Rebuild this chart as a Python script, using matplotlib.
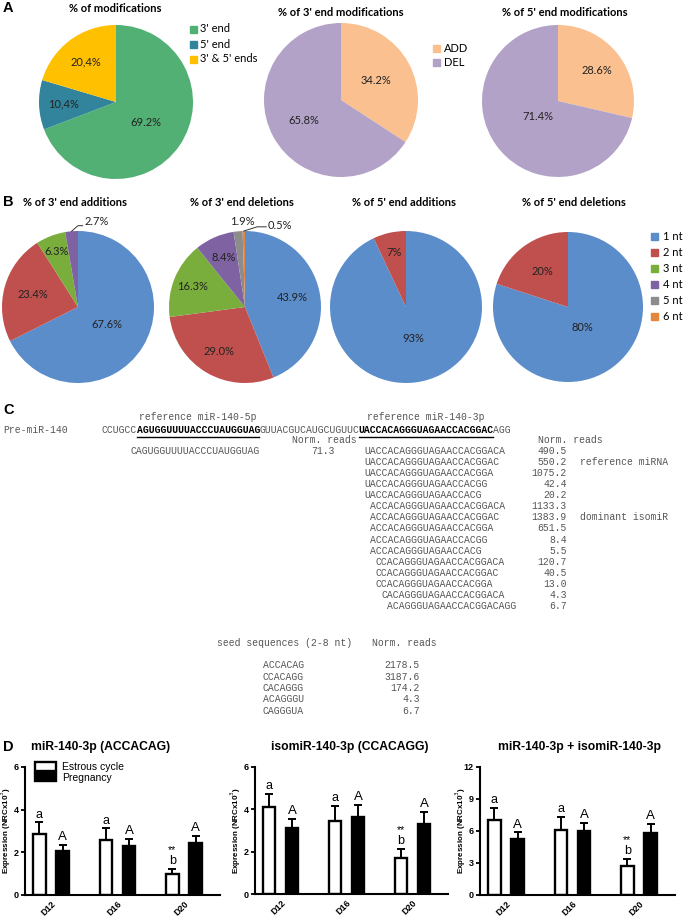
import matplotlib
matplotlib.use('Agg')
import matplotlib.pyplot as plt
import numpy as np

# ---------------- data ----------------
modif_labels = ["3' end", "5' end", "3' & 5' ends"]
modif_values = [69.2, 10.4, 20.4]
modif_text = ["69.2%", "10,4%", "20,4%"]

adddel_labels = ["ADD", "DEL"]
end3_values = [34.2, 65.8]
end3_text = ["34.2%", "65.8%"]
end5_values = [28.6, 71.4]
end5_text = ["28.6%", "71.4%"]

nt_labels = ["1 nt", "2 nt", "3 nt", "4 nt", "5 nt", "6 nt"]
add3_values = [67.6, 23.4, 6.3, 2.7]
add3_text = ["67.6%", "23.4%", "6.3%", "2.7%"]
del3_values = [43.9, 29.0, 16.3, 8.4, 1.9, 0.5]
del3_text = ["43.9%", "29.0%", "16.3%", "8.4%", "1.9%", "0.5%"]
add5_values = [93, 7]
add5_text = ["93%", "7%"]
del5_values = [80, 20]
del5_text = ["80%", "20%"]

pre_mir_segments = ["CCUGCC", "AGUGGUUUUACCCUAUGGUAG", "GUUACGUCAUGCUGUUC",
                    "UACCACAGGGUAGAACCACGGAC", "AGG"]
mir5p_seq = "CAGUGGUUUUACCCUAUGGUAG"
mir5p_reads = "71.3"
ref3p_extended = "UACCACAGGGUAGAACCACGGACAGG"
mir3p_seqs = ["UACCACAGGGUAGAACCACGGACA", "UACCACAGGGUAGAACCACGGAC",
              "UACCACAGGGUAGAACCACGGA", "UACCACAGGGUAGAACCACGG",
              "UACCACAGGGUAGAACCACG", "ACCACAGGGUAGAACCACGGACA",
              "ACCACAGGGUAGAACCACGGAC", "ACCACAGGGUAGAACCACGGA",
              "ACCACAGGGUAGAACCACGG", "ACCACAGGGUAGAACCACG",
              "CCACAGGGUAGAACCACGGACA", "CCACAGGGUAGAACCACGGAC",
              "CCACAGGGUAGAACCACGGA", "CACAGGGUAGAACCACGGACA",
              "ACAGGGUAGAACCACGGACAGG"]
mir3p_reads = ["490.5", "550.2", "1075.2", "42.4", "20.2", "1133.3", "1383.9",
               "651.5", "8.4", "5.5", "120.7", "40.5", "13.0", "4.3", "6.7"]
mir3p_notes = {1: "reference miRNA", 6: "dominant isomiR"}
seed_seqs = ["ACCACAG", "CCACAGG", "CACAGGG", "ACAGGGU", "CAGGGUA"]
seed_reads = ["2178.5", "3187.6", "174.2", "4.3", "6.7"]

days = ["D12", "D16", "D20"]
bar_titles = ["miR-140-3p (ACCACAG)", "isomiR-140-3p (CCACAGG)",
              "miR-140-3p + isomiR-140-3p"]
estrous_mean = [[2.85, 2.57, 0.98], [4.09, 3.46, 1.68], [6.99, 6.05, 2.76]]
estrous_sem = [[0.55, 0.55, 0.22], [0.65, 0.72, 0.46], [1.16, 1.30, 0.62]]
preg_mean = [[2.06, 2.30, 2.42], [3.10, 3.64, 3.32], [5.23, 5.96, 5.80]]
preg_sem = [[0.28, 0.32, 0.33], [0.44, 0.55, 0.54], [0.63, 0.78, 0.85]]
estrous_letters = ["a", "a", "b"]
preg_letters = ["A", "A", "A"]
ymaxes = [6, 6, 12]
yticks_list = [[0, 2, 4, 6], [0, 2, 4, 6], [0, 3, 6, 9, 12]]

# ---------------- figure ----------------
W, H = 685, 918
fig = plt.figure(figsize=(W / 100, H / 100), dpi=100)


def px_axes(l, t, w, h):
    return fig.add_axes([l / W, 1 - (t + h) / H, w / W, h / H])


ov = fig.add_axes([0, 0, 1, 1])
ov.set_xlim(0, W)
ov.set_ylim(H, 0)
ov.axis('off')
ov.set_zorder(10)
ov.patch.set_visible(False)

PIE_FONT = 'Lato'
SANS = 'Liberation Sans'
MONO = 'Liberation Mono'

# panel letters
for letter, (x, y) in zip("ABCD", [(3, 8), (3, 202), (3, 410), (3, 747)]):
    ov.text(x, y, letter, fontsize=10.5, fontweight='bold', family=SANS,
            ha='left', va='center')

c_green, c_teal, c_yellow = '#52B074', '#31849B', '#FFC000'
c_peach, c_lav = '#FAC08F', '#B3A2C7'
nt_colors = ['#5B8DCA', '#C0504D', '#7AAE3C', '#7F62A1', '#8C8C8C', '#E3873F']


def draw_pie(cx, cy, r, values, colors, labels, dists, fs=8):
    ax = px_axes(cx - r, cy - r, 2 * r, 2 * r)
    wedges, _ = ax.pie(values, colors=colors, startangle=90, counterclock=False,
                       radius=1, wedgeprops=dict(linewidth=0))
    ax.set_xlim(-1, 1)
    ax.set_ylim(-1, 1)
    ax.set_aspect('equal')
    ax.axis('off')
    for w, lab, d in zip(wedges, labels, dists):
        if d is None:
            continue
        ang = np.deg2rad((w.theta1 + w.theta2) / 2)
        ax.text(d * np.cos(ang), d * np.sin(ang), lab, ha='center', va='center',
                fontsize=fs, family=PIE_FONT, color='#222222')
    return ax, wedges


# ---- Panel A ----
draw_pie(116, 102, 77, modif_values, [c_green, c_teal, c_yellow], modif_text,
         [0.47, 0.68, 0.65])
draw_pie(341, 100, 77, end3_values, [c_peach, c_lav], end3_text, [0.52, 0.55])
draw_pie(558, 101, 76, end5_values, [c_peach, c_lav], end5_text, [0.65, 0.33])

ov.text(115, 8, "% of modifications", fontsize=8, fontweight='bold', family=PIE_FONT,
        ha='center', va='center')
ov.text(341, 12, "% of 3' end modifications", fontsize=8, fontweight='bold',
        family=PIE_FONT, ha='center', va='center')
ov.text(565, 12, "% of 5' end modifications", fontsize=8, fontweight='bold',
        family=PIE_FONT, ha='center', va='center')

for i, (lab, col) in enumerate(zip(modif_labels, [c_green, c_teal, c_yellow])):
    y = 29 + i * 15
    ov.add_patch(plt.Rectangle((190, y - 3.5), 7, 7, color=col))
    ov.text(200, y, lab, fontsize=8, family=PIE_FONT, va='center', ha='left')
for i, (lab, col) in enumerate(zip(adddel_labels, [c_peach, c_lav])):
    y = 48 + i * 14
    ov.add_patch(plt.Rectangle((433, y - 3.5), 7, 7, color=col))
    ov.text(444, y, lab, fontsize=8, family=PIE_FONT, va='center', ha='left')

# ---- Panel B ----
ax1, w1 = draw_pie(78, 307, 76, add3_values, nt_colors[:4], add3_text,
                   [0.45, 0.62, 0.78, None])
ang = np.deg2rad((w1[3].theta1 + w1[3].theta2) / 2)
ax1.plot([np.cos(ang), 0.0, 0.06], [np.sin(ang), 1.07, 1.07], color='#333333', lw=0.7,
         clip_on=False)
ax1.text(0.08, 1.12, add3_text[3], fontsize=8, family=PIE_FONT, ha='left',
         va='center', color='#222222')

ax2, w2 = draw_pie(245, 307, 76, del3_values, nt_colors, del3_text,
                   [0.63, 0.68, 0.74, 0.71, None, None])
ax2.text(-0.04, 1.13, del3_text[4], fontsize=8, family=PIE_FONT, ha='center',
         va='center', color='#222222')
ang = np.deg2rad((w2[5].theta1 + w2[5].theta2) / 2)
ax2.plot([np.cos(ang), 0.16, 0.28], [np.sin(ang), 1.055, 1.055], color='#333333', lw=0.7,
         clip_on=False)
ax2.text(0.30, 1.07, del3_text[5], fontsize=8, family=PIE_FONT, ha='left',
         va='center', color='#222222')

draw_pie(406, 307, 76, add5_values, nt_colors[:2], add5_text, [0.42, 0.74])
draw_pie(568, 307, 75, del5_values, nt_colors[:2], del5_text, [0.33, 0.59])

for x, t in zip([75, 242, 404, 574], ["% of 3' end additions", "% of 3' end deletions",
                                     "% of 5' end additions", "% of 5' end deletions"]):
    ov.text(x, 202, t, fontsize=8, fontweight='bold', family=PIE_FONT, ha='center',
            va='center')

for i, (lab, col) in enumerate(zip(nt_labels, nt_colors)):
    y = 236 + i * 16
    ov.add_patch(plt.Rectangle((651, y - 3.5), 7, 7, color=col))
    ov.text(663, y, lab, fontsize=8, family=PIE_FONT, va='center', ha='left')

# ---- Panel C ----
FS_M = 7.0
cw = FS_M * 100 / 72 * 0.6
gray = '#555555'


def mono(x, y, s, bold=False, ha='left', color=None):
    ov.text(x, y, s, fontsize=FS_M, family=MONO, fontweight='bold' if bold else 'normal',
            color=color or ('black' if bold else gray), ha=ha, va='center')


mono(3, 430, "Pre-miR-140")
xpos = 102
for i, s in enumerate(pre_mir_segments):
    bold = i in (1, 3)
    mono(xpos, 430, s, bold=bold)
    if bold:
        ov.plot([xpos, xpos + len(s) * cw], [437, 437], color='black', lw=1.0)
        label = "reference miR-140-5p" if i == 1 else "reference miR-140-3p"
        mono(xpos + len(s) * cw / 2, 417, label, ha='center')
    xpos += len(s) * cw
mono(292, 440, "Norm. reads")
mono(538, 440, "Norm. reads")
mono(131, 451, mir5p_seq)
mono(335, 451, mir5p_reads, ha='right')
for i, (s, r) in enumerate(zip(mir3p_seqs, mir3p_reads)):
    y = 451 + i * 11.07
    off = ref3p_extended.find(s[:6])
    mono(364 + off * cw, y, s)
    mono(567, y, r, ha='right')
    if i in mir3p_notes:
        mono(580, y, mir3p_notes[i])
mono(217, 643, "seed sequences (2-8 nt)")
mono(372, 643, "Norm. reads")
for i, (s, r) in enumerate(zip(seed_seqs, seed_reads)):
    y = 665 + i * 11.5
    mono(263, y, s)
    mono(420, y, r, ha='right')

# ---- Panel D ----
boxes = [(25, 767, 195, 128), (255, 767, 193, 127), (480, 767, 195, 128)]
title_x = [101, 350, 580]
x = np.arange(len(days))
bw, off = 0.19, 0.175
for k in range(3):
    ax = px_axes(*boxes[k])
    em, es = estrous_mean[k], estrous_sem[k]
    pm, ps = preg_mean[k], preg_sem[k]
    ek = dict(elinewidth=1.4, capsize=3.2, capthick=1.4, ecolor='black')
    ax.bar(x - off, em, bw, color='white', edgecolor='black', linewidth=1.7, zorder=2,
           label='Estrous cycle')
    ax.errorbar(x - off, em, yerr=[np.zeros(3), es], fmt='none', zorder=1, **ek)
    ax.bar(x + off, pm, bw, color='black', edgecolor='black', linewidth=1.7, zorder=2,
           label='Pregnancy')
    ax.errorbar(x + off, pm, yerr=[np.zeros(3), ps], fmt='none', zorder=1, **ek)
    ymax = ymaxes[k]
    pad = 0.015 * ymax
    for i in range(3):
        top = em[i] + es[i] + pad
        if estrous_letters[i] == 'b':
            ax.text(x[i] - off, top, 'b', ha='center', va='bottom', fontsize=9,
                    family=SANS)
            ax.text(x[i] - off, top + 0.095 * ymax, '**', ha='center', va='bottom',
                    fontsize=7.5, family=SANS)
        else:
            ax.text(x[i] - off, top, estrous_letters[i], ha='center', va='bottom',
                    fontsize=9, family=SANS)
        ax.text(x[i] + off, pm[i] + ps[i] + pad, preg_letters[i], ha='center',
                va='bottom', fontsize=9.5, family=SANS)
    ax.set_xlim(-0.39, 2.54)
    ax.set_ylim(0, ymax)
    ax.set_yticks(yticks_list[k])
    ax.set_xticks(x)
    ax.set_xticklabels(days, rotation=45, ha='right', rotation_mode='anchor',
                       fontsize=6.5, fontweight='bold', family=SANS)
    for lab in ax.get_yticklabels():
        lab.set_fontsize(6.5)
        lab.set_fontweight('bold')
        lab.set_family(SANS)
    for s in ['top', 'right']:
        ax.spines[s].set_visible(False)
    for s in ['left', 'bottom']:
        ax.spines[s].set_linewidth(1.5)
    ax.tick_params(axis='both', width=1.3, length=3, pad=1.5)
    ax.tick_params(axis='x', length=0, pad=3)
    ax.set_ylabel("Expression (NRCx10$^3$)", fontsize=5.8, fontweight='bold',
                  family=SANS)
    ax.yaxis.set_label_coords(-12 / boxes[k][2], 0.5)
    ax.patch.set_visible(False)
    ov.text(title_x[k], 747, bar_titles[k], fontsize=8.7, fontweight='bold',
            family=SANS, ha='center', va='center')
    if k == 0:
        ax.legend(loc='upper left', bbox_to_anchor=(0.03, 1.07), frameon=False,
                  prop={'family': SANS, 'size': 7.5}, handlelength=2.0,
                  handleheight=0.9, labelspacing=0.05, borderaxespad=0,
                  handletextpad=0.6)

fig.savefig('out.png', dpi=100)
